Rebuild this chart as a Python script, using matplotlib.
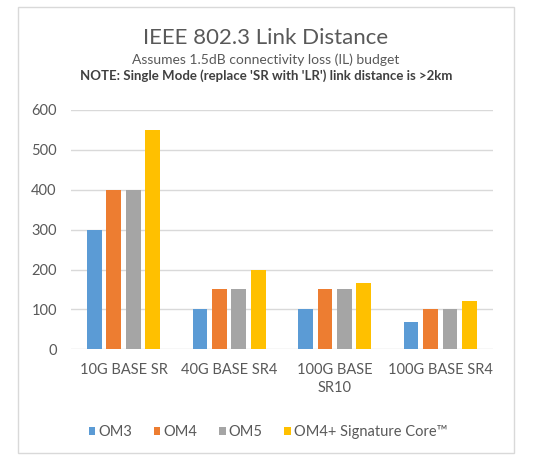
import matplotlib
matplotlib.use("Agg")
import matplotlib.pyplot as plt
from matplotlib.patches import Rectangle
import numpy as np

categories = ["10G BASE SR", "40G BASE SR4", "100G BASE\nSR10", "100G BASE SR4"]
series_names = ["OM3", "OM4", "OM5", "OM4+ Signature Core\u2122"]
om3 = [300, 100, 100, 68]
om4 = [400, 150, 150, 100]
om5 = [400, 150, 150, 100]
om4_sig = [550, 200, 165, 122]
yticks = [0, 100, 200, 300, 400, 500, 600]
colors = ["#5B9BD5", "#ED7D31", "#A5A5A5", "#FFC000"]

plt.rcParams['font.family'] = ['Lato', 'DejaVu Sans']
txt = "#595959"

fig = plt.figure(figsize=(5.4, 4.61), dpi=100)
W, H = 540, 461
# outer chart frame
fig.patches.append(Rectangle((18 / W, 1 - 453 / H), (514 - 18) / W, (453 - 7) / H,
                             transform=fig.transFigure, fill=False,
                             edgecolor="#D9D9D9", linewidth=1.0))

ax = fig.add_axes([70.7 / W, 1 - 349.3 / H, (493 - 70.7) / W, (349.3 - 110) / H])
x = np.arange(len(categories))
step, bw = 0.184, 0.139
for j, (vals, name) in enumerate(zip([om3, om4, om5, om4_sig], series_names)):
    ax.bar(x + (j - 1.5) * step, vals, width=bw, color=colors[j], label=name, zorder=3)

ax.set_xlim(-0.5, len(categories) - 0.5)
ax.set_ylim(0, 600)
ax.set_yticks(yticks)
ax.set_xticks(x)
ax.set_xticklabels(categories, linespacing=1.35)
ax.tick_params(axis='both', length=0, labelsize=10.5, colors=txt)
ax.tick_params(axis='y', pad=10)
ax.tick_params(axis='x', pad=10)
ax.grid(axis='y', color="#D9D9D9", linewidth=1.0, zorder=0)
for s in ax.spines.values():
    s.set_visible(False)

cx = 266 / W
fig.text(cx, 1 - 44 / H, "IEEE 802.3 Link Distance", ha='center', va='baseline',
         fontsize=16, color=txt)
fig.text(cx, 1 - 64 / H, "Assumes 1.5dB connectivity loss (IL) budget", ha='center',
         va='baseline', fontsize=10, color=txt)
fig.text(cx, 1 - 80 / H, "NOTE: Single Mode (replace 'SR with 'LR') link distance is >2km",
         ha='center', va='baseline', fontsize=9.5, color="#404040", fontweight='bold')

handles, labels = ax.get_legend_handles_labels()
fig.legend(handles, labels, loc='center', bbox_to_anchor=(268 / W, 1 - 432 / H), ncol=4,
           frameon=False, fontsize=10.5, handlelength=0.45, handleheight=0.45,
           handletextpad=0.2, columnspacing=1.5, labelcolor=txt)

fig.savefig("out.png", dpi=100, facecolor="white")
